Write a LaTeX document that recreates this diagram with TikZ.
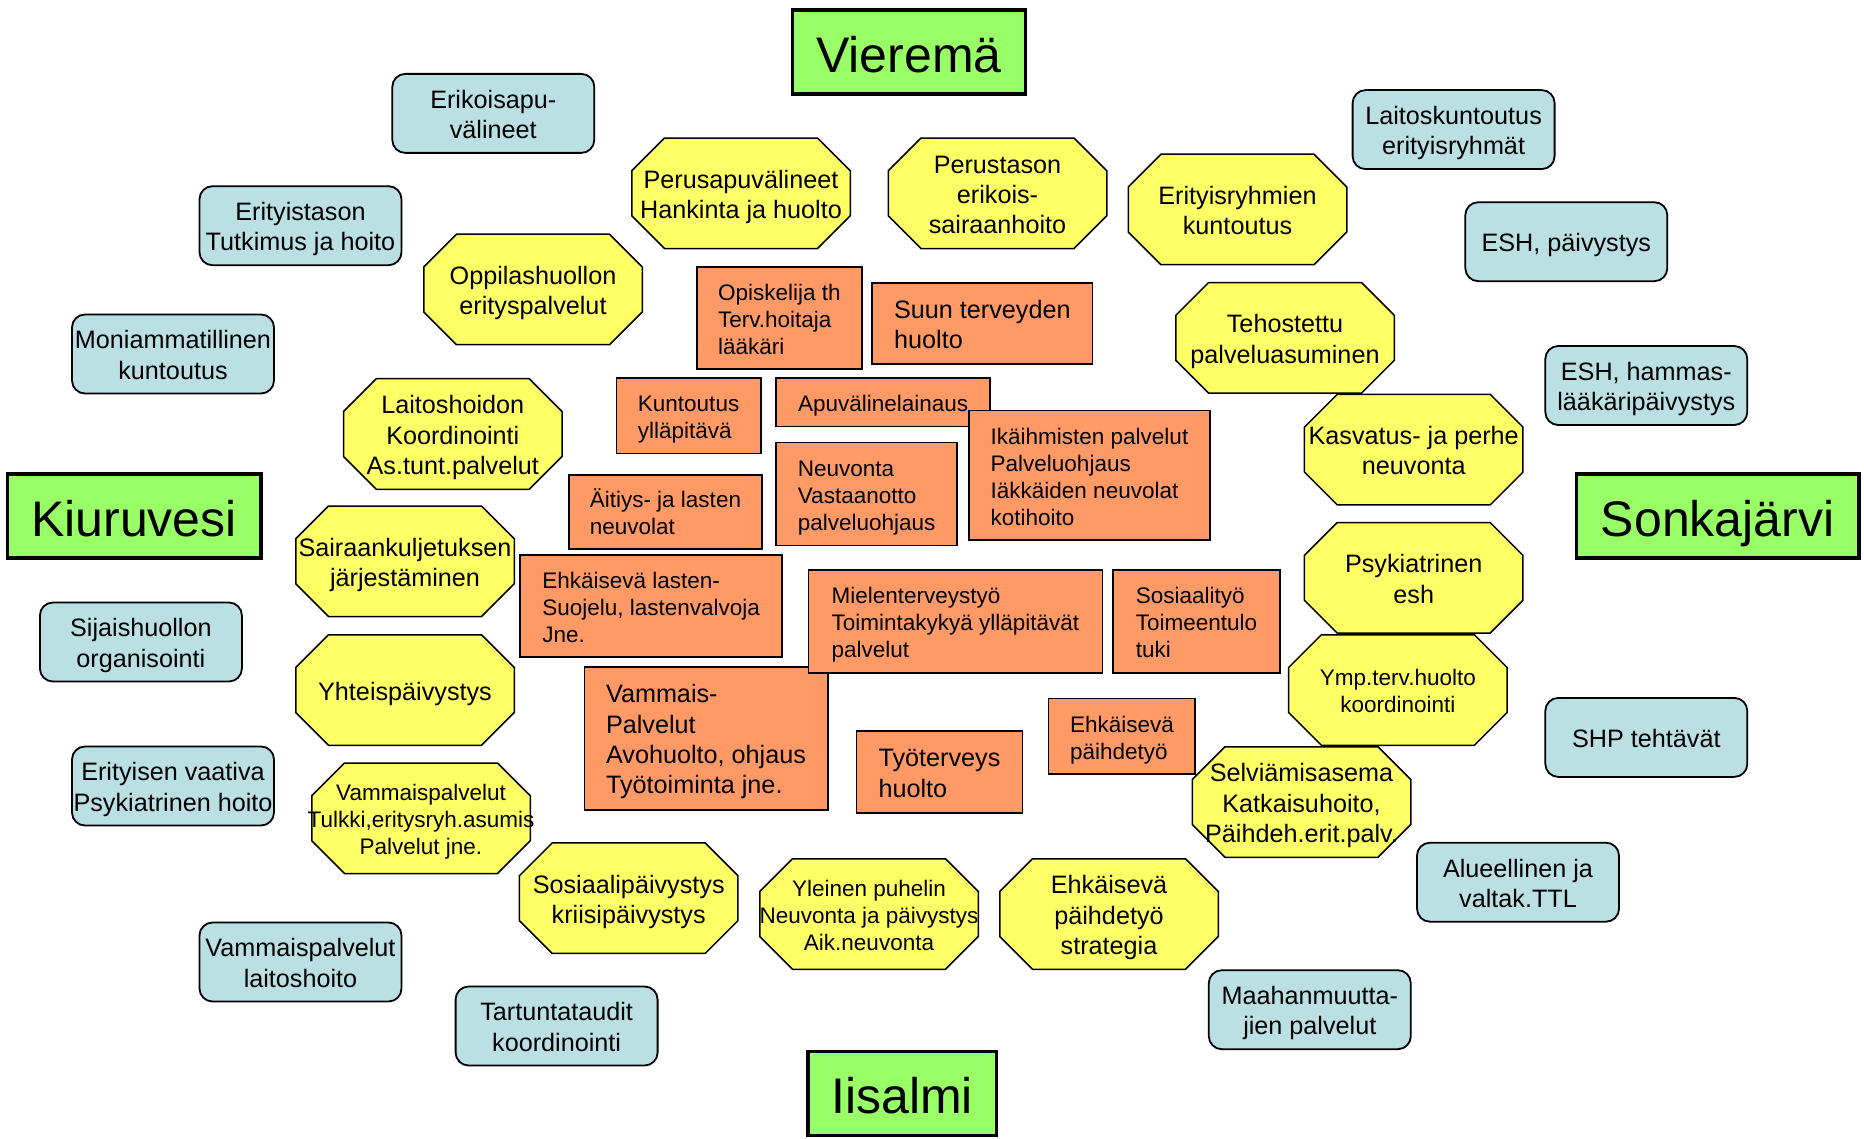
\documentclass[tikz,border=0pt]{standalone}
\usepackage{fontspec}
\setmainfont{Liberation Sans}
\usetikzlibrary{backgrounds}

\definecolor{townGreen}{HTML}{99FF66}
\definecolor{outBlue}{HTML}{BBE0E3}
\definecolor{midYellow}{HTML}{FFFF66}
\definecolor{coreOrange}{HTML}{FF9966}

\newcommand{\bigtxt}{\fontsize{25.2}{30.3}\selectfont}
\newcommand{\smalltxt}{\fontsize{22.5}{27}\selectfont}
% fixed line boxes, so every text sits the same way in its box
\newcommand{\topstrut}{\rule{0pt}{\dimexpr0.932em+5pt\relax}}
\newcommand{\botstrut}{\rule[-0.212em]{0pt}{0.212em}}
\newcommand{\cstack}[1]{\begin{tabular}{@{}c@{}}\rule{0pt}{\dimexpr\ht\strutbox+8pt\relax}#1\end{tabular}}
\newcommand{\lstack}[1]{\begin{tabular}{@{}l@{}}\rule{0pt}{\dimexpr\ht\strutbox+8pt\relax}#1\end{tabular}}

\tikzset{
  town/.style={draw, line width=3.5pt, fill=townGreen, minimum height=84pt, inner sep=0pt,
    font=\fontsize{50}{60}\selectfont, execute at begin node={\topstrut}, execute at end node={\botstrut}},
  outer/.style={draw, line width=1.8pt, fill=outBlue, rounded corners=13pt, minimum width=202pt,
    minimum height=79pt, inner sep=0pt, font=\bigtxt},
  octa/.style={inner sep=0pt, outer sep=0pt, font=\bigtxt},
  octline/.style={draw, line width=1.5pt, fill=midYellow},
  core/.style={draw, line width=1.6pt, fill=coreOrange, inner sep=0pt, font=\smalltxt},
  sz/.style 2 args={minimum width=#1pt, minimum height=#2pt},
}

\begin{document}
\begin{tikzpicture}[x=1pt, y=-1pt]
\useasboundingbox (0,0) rectangle (1864,1139);

% municipalities
\node[town, minimum width=233pt] (vier) at (909,52) {Vieremä};
\node[town, minimum width=253.5pt] (kiur) at (134,516) {Kiuruvesi};
\node[town, minimum width=282.5pt] (sonk) at (1717.7,516) {Sonkajärvi};
\node[town, minimum width=188.5pt] (iisa) at (902.2,1093.4) {Iisalmi};

% regional services (outer ring)
\node[outer] (erap) at (493.3,113.4) {\cstack{Erikoisapu-\\välineet}};
\node[outer] (erti) at (300.5,225.7) {\cstack{Erityistason\\Tutkimus ja hoito}};
\node[outer] (moni) at (173,354) {\cstack{Moniammatillinen\\kuntoutus}};
\node[outer] (laik) at (1453.6,129.6) {\cstack{Laitoskuntoutus\\erityisryhmät}};
\node[outer] (eshp) at (1566.3,241.7) {\cstack{ESH, päivystys}};
\node[outer] (eshh) at (1646.3,385.5) {\cstack{ESH, hammas-\\lääkäripäivystys}};
\node[outer] (sija) at (140.9,642) {\cstack{Sijaishuollon\\organisointi}};
\node[outer] (ervp) at (173,786) {\cstack{Erityisen vaativa\\Psykiatrinen hoito}};
\node[outer] (vala) at (300.5,962) {\cstack{Vammaispalvelut\\laitoshoito}};
\node[outer] (tart) at (556.6,1026) {\cstack{Tartuntataudit\\koordinointi}};
\node[outer] (shpt) at (1646.3,737.4) {\cstack{SHP tehtävät}};
\node[outer] (alue) at (1518,882.2) {\cstack{Alueellinen ja\\valtak.TTL}};
\node[outer] (maah) at (1309.8,1009.7) {\cstack{Maahanmuutta-\\jien palvelut}};

% shared services (middle ring)
\node[octa] (pera) at (741,193.3) {\cstack{Perusapuvälineet\\Hankinta ja huolto}};
\node[octa] (pers) at (997.5,193.3) {\cstack{Perustason\\erikois-\\sairaanhoito}};
\node[octa] (erkr) at (1237.5,209.5) {\cstack{Erityisryhmien\\kuntoutus}};
\node[octa] (oppi) at (533,289.5) {\cstack{Oppilashuollon\\erityspalvelut}};
\node[octa] (teho) at (1285,337.8) {\cstack{Tehostettu\\palveluasuminen}};
\node[octa] (lait) at (452.8,434) {\cstack{Laitoshoidon\\Koordinointi\\As.tunt.palvelut}};
\node[octa] (kasv) at (1413.7,449.6) {\cstack{Kasvatus- ja perhe\\neuvonta}};
\node[octa] (saik) at (405,561.3) {\cstack{Sairaankuljetuksen\\järjestäminen}};
\node[octa] (psyk) at (1413.7,577.8) {\cstack{Psykiatrinen\\esh}};
\node[octa] (yhte) at (405,690) {\cstack{Yhteispäivystys}};
\node[octa, font=\smalltxt] (ympt) at (1397.9,690) {\cstack{Ymp.terv.huolto\\koordinointi}};
\node[octa, font=\smalltxt] (vapa) at (421,818.3) {\cstack{Vammaispalvelut\\Tulkki,eritysryh.asumis\\Palvelut jne.}};
\node[octa] (selv) at (1301.5,802) {\cstack{Selviämisasema\\Katkaisuhoito,\\Päihdeh.erit.palv.}};
\node[octa] (sopa) at (628.7,898.2) {\cstack{Sosiaalipäivystys\\kriisipäivystys}};
\node[octa, font=\smalltxt] (ylei) at (869,914) {\cstack{Yleinen puhelin\\Neuvonta ja päivystys\\Aik.neuvonta}};
\node[octa] (ehst) at (1109,914) {\cstack{Ehkäisevä\\päihdetyö\\strategia}};

\begin{scope}[on background layer]
  \foreach \n in {pera,pers,erkr,oppi,teho,lait,kasv,saik,psyk,yhte,ympt,vapa,selv,sopa,ylei,ehst}
    \filldraw[octline, shift={(\n)}] (-76.5,-55.25) -- (76.5,-55.25) -- (109.25,-22.5) -- (109.25,22.5)
      -- (76.5,55.25) -- (-76.5,55.25) -- (-109.25,22.5) -- (-109.25,-22.5) -- cycle;
\end{scope}

% local services (core)
\node[core, sz={165}{102}] (opis) at (779.3,317.8) {\lstack{Opiskelija th\\Terv.hoitaja\\lääkäri}};
\node[core, sz={220.4}{81.4}, font=\bigtxt] (suun) at (982.4,323.5) {\lstack{Suun terveyden\\huolto}};
\node[core, sz={144.4}{75.4}] (kunt) at (688.6,416) {\lstack{Kuntoutus\\ylläpitävä}};
\node[core, sz={214}{48.4}] (apuv) at (883.2,402.4) {\lstack{Apuvälinelainaus}};
\node[core, sz={240.8}{129.4}] (ikai) at (1089.5,475.4) {\lstack{Ikäihmisten palvelut\\Palveluohjaus\\Iäkkäiden neuvolat\\kotihoito}};
\node[core, sz={181}{103}] (neuv) at (866.7,493.9) {\lstack{Neuvonta\\Vastaanotto\\palveluohjaus}};
\node[core, sz={193.4}{74}] (aiti) at (665.4,512) {\lstack{Äitiys- ja lasten\\neuvolat}};
\node[core, sz={262.2}{102}] (ehkl) at (651.1,605.9) {\lstack{Ehkäisevä lasten-\\Suojelu, lastenvalvoja\\Jne.}};
\node[core, sz={243.4}{143}, font=\bigtxt] (vamo) at (706,738.2) {\lstack{Vammais-\\Palvelut\\Avohuolto, ohjaus\\Työtoiminta jne.}};
\node[core, sz={294}{102.7}] (miel) at (955.4,621.5) {\lstack{Mielenterveystyö\\Toimintakykyä ylläpitävät\\palvelut}};
\node[core, sz={167.2}{102.7}] (sosi) at (1196.4,621.5) {\lstack{Sosiaalityö\\Toimeentulo\\tuki}};
\node[core, sz={165.8}{82.4}, font=\bigtxt] (tyot) at (939.5,771.9) {\lstack{Työterveys\\huolto}};
\node[core, sz={146.7}{75.4}] (ehkp) at (1121.9,736.3) {\lstack{Ehkäisevä\\päihdetyö}};
\end{tikzpicture}
\end{document}
